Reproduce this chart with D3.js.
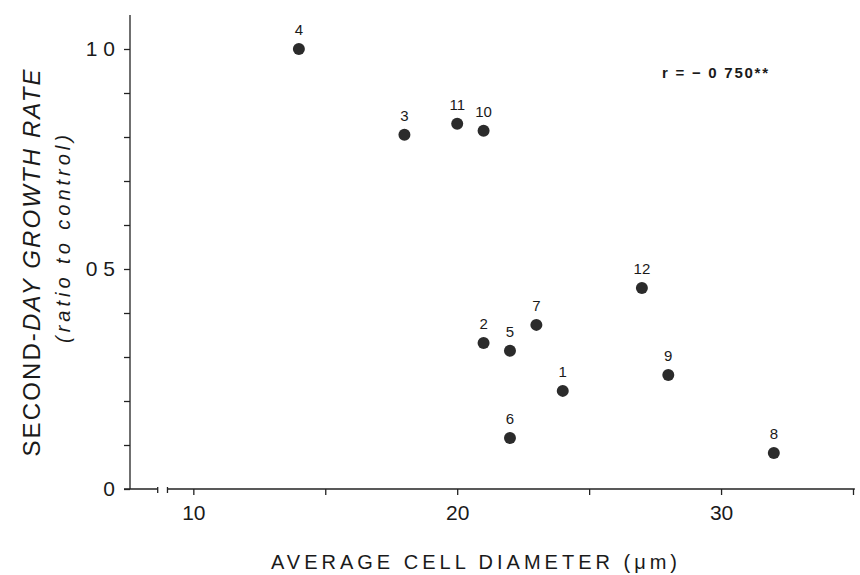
<!DOCTYPE html>
<html>
<head>
<meta charset="utf-8">
<script src="https://cdn.jsdelivr.net/npm/d3@7"></script>
<style>
  html, body { margin: 0; padding: 0; background: #fff; }
  svg { display: block; }
  text { font-family: "Liberation Sans", Arial, sans-serif; fill: #1a1a1a; }
</style>
</head>
<body>
<svg id="chart" width="860" height="575"></svg>
<script>
// Culture number, mean cell diameter (µm) and second-day growth rate (ratio to control)
const cultureIds = ["1", "2", "3", "4", "5", "6", "7", "8", "9", "10", "11", "12"];
const cellDiameters = [24, 21, 18, 14, 22, 22, 23, 32, 28, 21, 20, 27];
const growthRates = [0.223, 0.332, 0.805, 1.0, 0.314, 0.116, 0.373, 0.082, 0.259, 0.814, 0.830, 0.457];

// Axis ticks and their printed labels
const xTickValues = [10, 15, 20, 25, 30, 35];
const xTickLabels = { 10: "10", 20: "20", 30: "30" };
const yTickValues = [0, 0.1, 0.2, 0.3, 0.4, 0.5, 0.6, 0.7, 0.8, 0.9, 1.0];
const yTickLabels = { 0: "0", 0.5: "0 5", 1: "1 0" };
const correlationLabel = "r = \u2212 0 750**";

const svg = d3.select("#chart");
const ink = "#222";

const x = d3.scaleLinear().domain([7.6, 35]).range([130, 853]);
const y = d3.scaleLinear().domain([0, 1]).range([489, 49]);
const xAxisEnd = 35.07, yAxisTop = 1.077;
const xBreak = [8.65, 9.02];

// X axis: ticks from d3, baseline drawn with a scale break near the origin
const gx = svg.append("g").attr("transform", `translate(0,${y(0)})`)
  .call(d3.axisBottom(x).tickValues(xTickValues).tickSize(6).tickSizeOuter(0)
    .tickFormat(d => xTickLabels[d] || ""));
gx.select(".domain").remove();
gx.selectAll(".tick line").attr("stroke", ink).attr("stroke-width", 1.3);
gx.selectAll(".tick text").attr("dy", "1.05em").attr("font-size", 21).attr("fill", ink);

const baseline = svg.append("g").attr("stroke", ink).attr("stroke-width", 1.3).attr("fill", "none");
baseline.append("line").attr("x1", x(7.6) - 6).attr("x2", x(xBreak[0])).attr("y1", y(0)).attr("y2", y(0));
baseline.append("line").attr("x1", x(xBreak[1])).attr("x2", x(xAxisEnd)).attr("y1", y(0)).attr("y2", y(0));
xBreak.forEach(b => baseline.append("line")
  .attr("x1", x(b)).attr("x2", x(b)).attr("y1", y(0) - 2).attr("y2", y(0) + 4));

// Y axis
const gy = svg.append("g").attr("transform", `translate(${x(7.6)},0)`)
  .call(d3.axisLeft(y).tickValues(yTickValues).tickSize(6).tickSizeOuter(0)
    .tickFormat(d => yTickLabels[Math.round(d * 10) / 10] || ""));
gy.select(".domain").remove();
gy.selectAll(".tick line").attr("stroke", ink).attr("stroke-width", 1.3);
gy.selectAll(".tick text").attr("x", -15).attr("font-size", 21).attr("fill", ink);
svg.append("line").attr("stroke", ink).attr("stroke-width", 1.3)
  .attr("x1", x(7.6)).attr("x2", x(7.6)).attr("y1", y(0)).attr("y2", y(yAxisTop));

// Points with their culture numbers
const pts = svg.append("g").selectAll("g").data(cultureIds).join("g")
  .attr("transform", (d, i) => `translate(${x(cellDiameters[i])},${y(growthRates[i])})`);
pts.append("circle").attr("r", 6).attr("fill", "#2b2b2b");
pts.append("text").attr("text-anchor", "middle").attr("y", -14)
  .attr("font-size", 15).attr("fill", "#333").text(d => d);

// Correlation coefficient
svg.append("text").attr("x", 662).attr("y", 78).attr("font-size", 15)
  .attr("font-weight", "bold").attr("textLength", 106).attr("lengthAdjust", "spacing")
  .attr("fill", "#111").text(correlationLabel);

// Axis titles
svg.append("text").attr("x", 474).attr("y", 569).attr("text-anchor", "middle")
  .attr("font-size", 20).attr("textLength", 406).attr("lengthAdjust", "spacing")
  .attr("fill", ink).text("AVERAGE CELL DIAMETER (\u03bcm)");

const yTitle = svg.append("text").attr("transform", "translate(40,263) rotate(-90)")
  .attr("text-anchor", "middle").attr("font-size", 24)
  .attr("textLength", 387).attr("lengthAdjust", "spacing").attr("fill", ink);
yTitle.append("tspan").text("SECOND-");
yTitle.append("tspan").attr("font-style", "italic").text("DAY GROWTH RATE");

svg.append("text").attr("transform", "translate(70,239) rotate(-90)")
  .attr("text-anchor", "middle").attr("font-size", 20).attr("font-style", "italic")
  .attr("textLength", 208).attr("lengthAdjust", "spacing")
  .attr("fill", ink).text("(ratio to control)");
</script>
</body>
</html>
